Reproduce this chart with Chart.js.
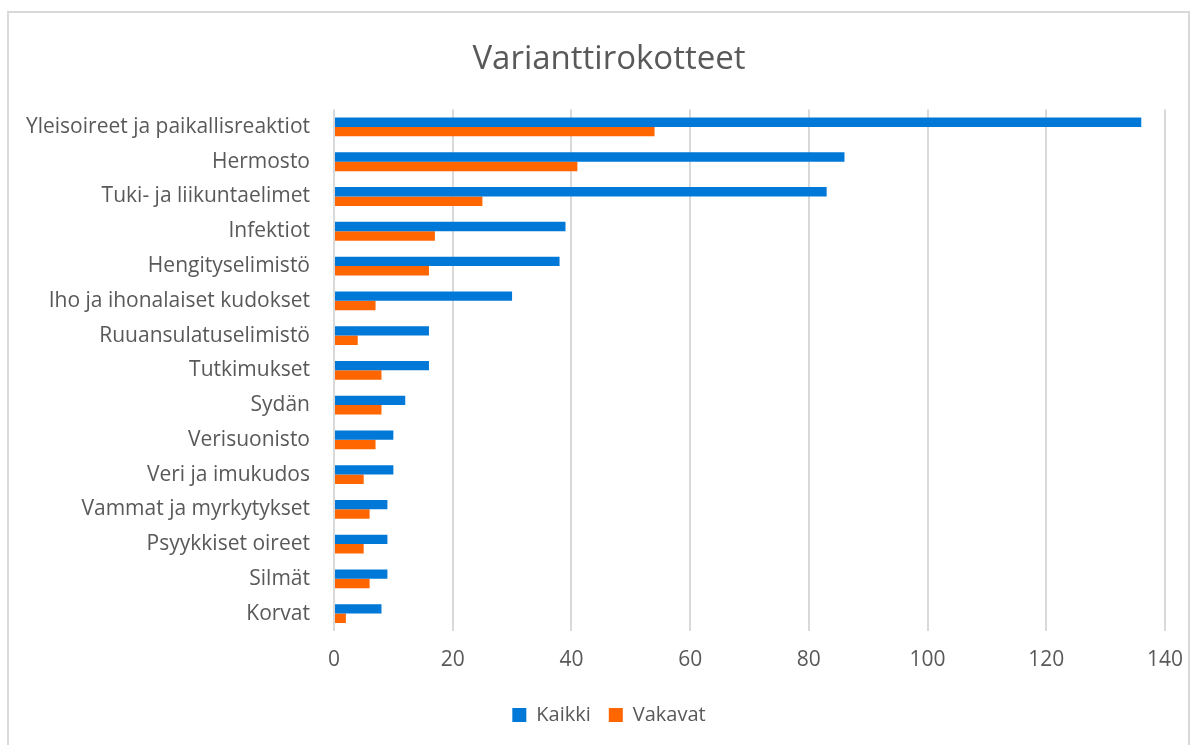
<!DOCTYPE html>
<html>
<head>
<meta charset="utf-8">
<script src="https://cdn.jsdelivr.net/npm/chart.js@4/dist/chart.umd.min.js"></script>
<style>
  html, body { margin: 0; padding: 0; background: #fff; overflow: hidden; }
  #wrap { position: relative; width: 1198px; height: 745px; }
  #frame { position: absolute; left: 7px; top: 11px; width: 1183px; height: 740px;
           border: 2px solid #d9d9d9; box-sizing: border-box; pointer-events: none; }
  canvas { position: absolute; left: 0; top: 0; }
</style>
</head>
<body>
<div id="wrap">
  <canvas id="chart" width="1198" height="745"></canvas>
  <div id="frame"></div>
</div>
<script>
// --- DATA ---
const categories = [
  'Yleisoireet ja paikallisreaktiot', 'Hermosto', 'Tuki- ja liikuntaelimet', 'Infektiot',
  'Hengityselimistö', 'Iho ja ihonalaiset kudokset', 'Ruuansulatuselimistö', 'Tutkimukset',
  'Sydän', 'Verisuonisto', 'Veri ja imukudos', 'Vammat ja myrkytykset',
  'Psyykkiset oireet', 'Silmät', 'Korvat'
];
const kaikki  = [136, 86, 83, 39, 38, 30, 16, 16, 12, 10, 10, 9, 9, 9, 8];
const vakavat = [54, 41, 25, 17, 16, 7, 4, 8, 8, 7, 5, 6, 5, 6, 2];
const xTicks = [0, 20, 40, 60, 80, 100, 120, 140];

const textColor = '#595959';
const fontFamily = '"Open Sans", "Noto Sans", sans-serif';

// --- CHART ---
const ctx = document.getElementById('chart').getContext('2d');
new Chart(ctx, {
    type: 'bar',
    data: {
        labels: categories,
        datasets: [
            { label: 'Kaikki', data: kaikki, backgroundColor: '#0078D7' },
            { label: 'Vakavat', data: vakavat, backgroundColor: '#FF6600' }
        ]
    },
    options: {
        indexAxis: 'y',
        responsive: false,
        animation: false,
        layout: { padding: { left: 20, right: 0, top: 0, bottom: 10 } },
        datasets: { bar: { categoryPercentage: 0.54, barPercentage: 1 } },
        scales: {
            x: {
                min: 0,
                max: 140,
                afterBuildTicks: scale => { scale.ticks = xTicks.map(v => ({ value: v })); },
                afterFit: scale => { scale.height = 56; scale.paddingRight = 33; },
                grid: { color: '#d9d9d9', lineWidth: 2, drawTicks: false },
                border: { display: false },
                ticks: { color: textColor, font: { family: fontFamily, size: 21 }, padding: 16 }
            },
            y: {
                afterFit: scale => { scale.width = 314; },
                grid: { display: false, drawTicks: false },
                border: { display: false },
                ticks: { color: textColor, font: { family: fontFamily, size: 21 }, padding: 24, autoSkip: false }
            }
        },
        plugins: {
            title: {
                display: true,
                text: 'Varianttirokotteet',
                color: textColor,
                font: { family: fontFamily, size: 33, weight: 'normal' },
                padding: { top: 40, bottom: 30 }
            },
            legend: {
                position: 'bottom',
                labels: {
                    color: textColor,
                    font: { family: fontFamily, size: 20 },
                    boxWidth: 14,
                    boxHeight: 14,
                    padding: 18
                }
            },
            tooltip: { enabled: false }
        }
    }
});
</script>
</body>
</html>
